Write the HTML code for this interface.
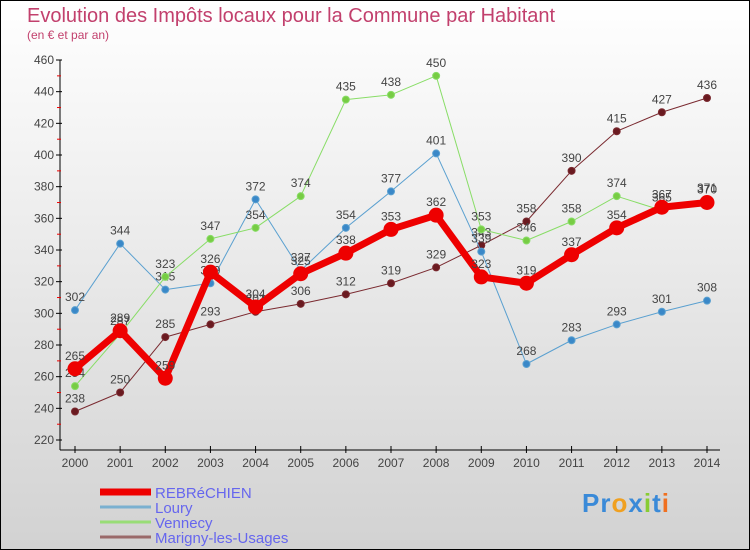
<!DOCTYPE html>
<html><head><meta charset="utf-8"><style>
body{margin:0}
#c{position:relative;width:750px;height:550px;overflow:hidden;font-family:"Liberation Sans",sans-serif}
</style></head><body>
<div id="c">
<svg id="s" width="750" height="550" xmlns="http://www.w3.org/2000/svg">
<defs><linearGradient id="bg" x1="0" y1="0" x2="0" y2="1"><stop offset="0" stop-color="#ffffff"/><stop offset="1" stop-color="#d2d2d2"/></linearGradient></defs>
<rect x="0.5" y="0.5" width="749" height="549" fill="url(#bg)" stroke="#000"/>
<text x="27" y="22" font-size="20" fill="#c2406d">Evolution des Impôts locaux pour la Commune par Habitant</text>
<text x="27" y="39" font-size="12" fill="#c2406d">(en € et par an)</text>
<g id="axes"></g><g id="series"></g><g id="legend"></g>
</svg></div>
<script>
const years=[2000,2001,2002,2003,2004,2005,2006,2007,2008,2009,2010,2011,2012,2013,2014];
const yTicks=[220,240,260,280,300,320,340,360,380,400,420,440,460];
const rebrechien=[265,289,259,326,304,325,338,353,362,323,319,337,354,367,370];
const loury=[302,344,315,319,372,327,354,377,401,339,268,283,293,301,308];
const vennecy=[254,287,323,347,354,374,435,438,450,353,346,358,374,365,371];
const marigny=[238,250,285,293,301,306,312,319,329,343,358,390,415,427,436];
const NS="http://www.w3.org/2000/svg";
const xs=i=>75+i*(632/14);
const ys=v=>440-(v-220)*(380/240);
function mk(t,a,p){const e=document.createElementNS(NS,t);for(const k in a)e.setAttribute(k,a[k]);p.appendChild(e);return e;}
const ax=document.getElementById('axes');
let e=mk('line',{x1:60,y1:60,x2:60,y2:450,stroke:'#000'},ax);

e=mk('line',{x1:60,y1:450,x2:720,y2:450,stroke:'#000'},ax);

yTicks.forEach((v,i)=>{const y=ys(v);
 mk('line',{x1:56,y1:y,x2:62,y2:y,stroke:'#000'},ax);
 if(i<yTicks.length-1)mk('line',{x1:57,y1:y-15.8,x2:61,y2:y-15.8,stroke:'#e00'},ax);
 const t=mk('text',{x:54,y:y+4,'font-size':12,fill:'#444','text-anchor':'end'},ax);t.textContent=v;
 });
years.forEach((yr,i)=>{const x=xs(i);
 mk('line',{x1:x,y1:446,x2:x,y2:453,stroke:'#000'},ax);
 const t=mk('text',{x:x,y:467,'font-size':12,fill:'#444','text-anchor':'middle'},ax);t.textContent=yr;
 });
const sg=document.getElementById('series');
function series(d,color,w,r,dot,name){
 const g=mk('g',{},sg);
 const pl=mk('polyline',{points:d.map((v,i)=>xs(i)+','+ys(v)).join(' '),fill:'none',stroke:color,'stroke-width':w,'stroke-linejoin':'round'},g);
 
 d.forEach((v,i)=>{const c=mk('circle',{cx:xs(i),cy:ys(v),r:r,fill:dot,stroke:color,'stroke-width':1},g);
  
  const t=mk('text',{x:xs(i),y:ys(v)-9,'font-size':12,fill:'#444','text-anchor':'middle'},g);t.textContent=v;
  });
}
series(marigny,'#7a2a30',1,3.5,'#6a1a20','marigny');
series(loury,'#5aa0d0',1,3.5,'#3a88c8','loury');
series(vennecy,'#88dd66',1,3.5,'#77cc44','vennecy');
series(rebrechien,'#ee0000',7,7,'#ee0000','rebrechien');
const lg=document.getElementById('legend');
[['REBRéCHIEN','#ee0000',7],['Loury','#7ab0d0',3],['Vennecy','#99dd77',3],['Marigny-les-Usages','#9a6a6a',3]].forEach((l,i)=>{
 const y=492+i*15;
 const ln=mk('line',{x1:100,y1:y,x2:151,y2:y,stroke:l[1],'stroke-width':l[2]},lg);
 
 const t=mk('text',{x:155,y:y+6,'font-size':15,fill:'#6666ee'},lg);t.textContent=l[0];
 });
</script>
<div style="position:absolute;left:582px;top:488px;font:bold 26px 'Liberation Sans',sans-serif;letter-spacing:1px"><span style="color:#3a8ad8">Pr</span><span style="color:#f0a020">o</span><span style="color:#3a8ad8">x</span><span style="color:#88cc33">i</span><span style="color:#3a8ad8">t</span><span style="color:#f07020">i</span></div>
</body></html>
